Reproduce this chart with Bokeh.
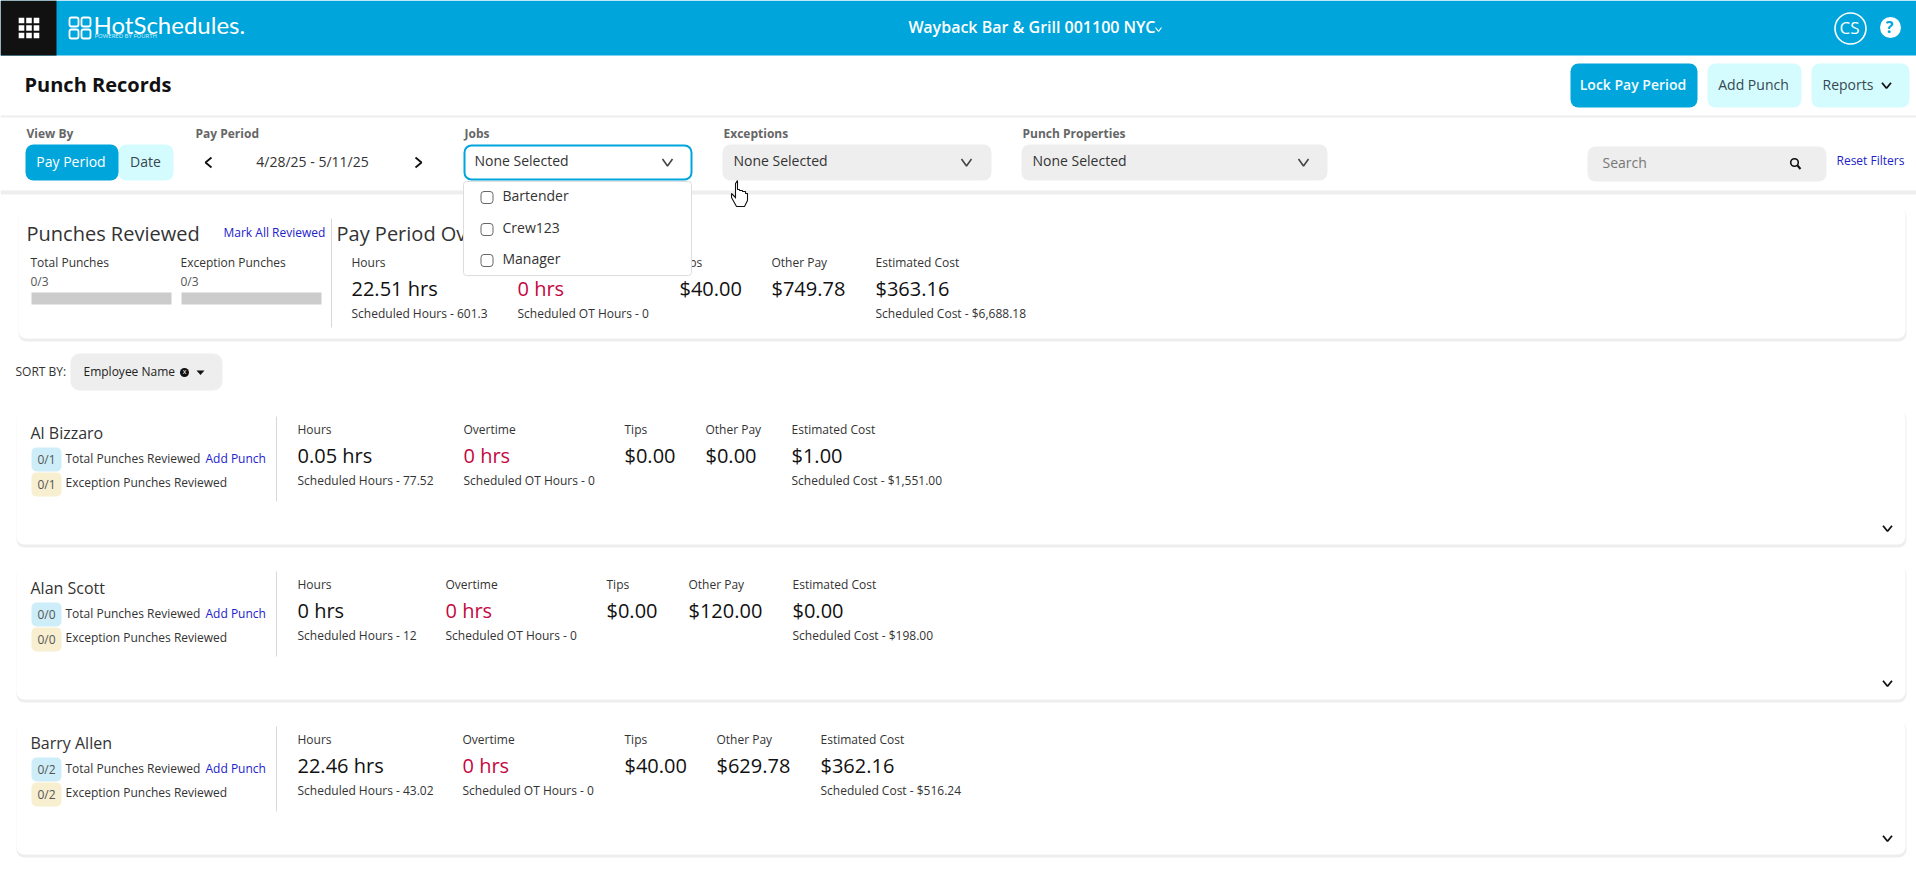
from bokeh.embed import file_html
from bokeh.models import BoxAnnotation, Label, Range1d
from bokeh.plotting import figure
from bokeh.resources import INLINE

# page content
app_name = "HotSchedules."
store_name = "Wayback Bar & Grill 001100 NYC"
page_title = "Punch Records"
pay_period = "4/28/25 - 5/11/25"
job_options = ["Bartender", "Crew123", "Manager"]

# pay period summary
summary_heads = ["Hours", "Overtime", "Tips", "Other Pay", "Estimated Cost"]
summary_values = ["22.51 hrs", "0 hrs", "$40.00", "$749.78", "$363.16"]
summary_subs = ["Scheduled Hours - 601.3", "Scheduled OT Hours - 0", "", "", "Scheduled Cost - $6,688.18"]
punch_heads = ["Total Punches", "Exception Punches"]
punch_counts = ["0/3", "0/3"]

# employee rows
employees = ["Al Bizzaro", "Alan Scott", "Barry Allen"]
total_reviewed = ["0/1", "0/0", "0/2"]
exception_reviewed = ["0/1", "0/0", "0/2"]
hours = ["0.05 hrs", "0 hrs", "22.46 hrs"]
overtime = ["0 hrs", "0 hrs", "0 hrs"]
tips = ["$0.00", "$0.00", "$40.00"]
other_pay = ["$0.00", "$120.00", "$629.78"]
est_cost = ["$1.00", "$0.00", "$362.16"]
sched_hours = ["Scheduled Hours - 77.52", "Scheduled Hours - 12", "Scheduled Hours - 43.02"]
sched_ot = ["Scheduled OT Hours - 0", "Scheduled OT Hours - 0", "Scheduled OT Hours - 0"]
sched_cost = ["Scheduled Cost - $1,551.00", "Scheduled Cost - $198.00", "Scheduled Cost - $516.24"]

# layout, x of the five columns in each employee row
row_offsets = [0, 155, 310]
row_columns = [
    [298, 464, 625, 706, 792],
    [298, 446, 607, 689, 793],
    [298, 463, 625, 717, 821],
]
summary_columns = [352, 518, 680, 772, 876]

BLUE = "#00a5db"
PALE = "#d4fcff"
GREY = "#eeeeee"
LINK = "#2222cc"
RED = "#c4073f"
INK = "#262626"
FONT = "Open Sans"
SEMI = "Open Sans SemiBold"

# y axis flipped so that the numbers read as pixels from the top of the window
p = figure(width=1916, height=876, output_backend="svg", toolbar_location=None,
           x_range=Range1d(0, 1916), y_range=Range1d(876, 0),
           x_axis_location=None, y_axis_location=None, min_border=0)
p.grid.visible = False
p.outline_line_color = None
p.background_fill_color = "white"


def box(x0, x1, y0, y1, fill, radius=0, line=None, line_width=1):
    p.quad(left=[x0], right=[x1], top=[y0], bottom=[y1], fill_color=fill, line_color=line,
           line_width=line_width, border_radius=radius)


# p.text ignores the font under the svg backend, Label does not
def label(x, y, text, size=12, color=INK, style="normal", align="left", font=FONT, level="annotation"):
    p.add_layout(Label(x=x - 1, y=y - 1, text=text, text_font=font, text_font_size=f"{size}px", text_color=color,
                       text_font_style=style, text_align=align, text_baseline="middle", level=level))


def over_box(x0, x1, y0, y1, radius, line, line_width=1):
    p.add_layout(BoxAnnotation(left=x0, right=x1, top=y0, bottom=y1, fill_color="white", fill_alpha=1,
                               line_color=line, line_alpha=1, line_width=line_width, border_radius=radius,
                               level="overlay"))


def chevron(x, y, w=5, h=3.5, color="#444444", width=1.6):
    p.line([x - w, x, x + w], [y - h, y + h, y - h], line_color=color, line_width=width)


def chevron_side(x, y, d, color="#111111"):
    p.line([x - d * 3, x + d * 3, x - d * 3], [y - 5, y, y + 5], line_color=color, line_width=1.8)


def card(x0, x1, y0, y1):
    box(x0, x1 + 1, y0, y1 + 3, GREY, radius=8)
    box(x0, x1, y0 - 1, y1, "white", radius=8)


# header bar
box(0, 1916, 0, 55, BLUE)
box(0, 56, 0, 55, "#111111")
for gx in [21, 28.5, 36]:
    for gy in [20, 27.5, 35]:
        box(gx - 2.8, gx + 2.8, gy - 2.8, gy + 2.8, "white")
# logo mark
box(69, 78, 17, 26, None, radius=2, line="white", line_width=1.8)
box(81, 90, 17, 26, None, radius=2, line="white", line_width=1.8)
box(69, 78, 29, 38, None, radius=2, line="white", line_width=1.8)
box(81, 90, 29, 38, None, radius=2, line="white", line_width=1.8)
label(94, 25, app_name, size=24, color="white", font="Lato")
label(95, 36, "POWERED BY FOURTH", size=6, color="#d4f2fb")
label(909, 27, store_name, size=16, color="white", font=SEMI)
chevron(1158, 29, w=3, h=2, color="white", width=1.2)
p.circle([1850], [28], radius=15.5, fill_color=None, line_color="white", line_width=1.6)
label(1850, 28, "CS", size=17, color="white", align="center")
p.circle([1890], [27], radius=10.5, fill_color="white", line_color=None)
label(1890, 27, "?", size=16, color=BLUE, style="bold", align="center")

# title row
label(25, 85, page_title, size=20, color="#111111", style="bold")
box(1570, 1697, 63, 107, BLUE, radius=8)
label(1633.5, 85, "Lock Pay Period", size=14, color="#f2fbfe", align="center", font=SEMI)
box(1707, 1801, 63, 107, PALE, radius=8)
label(1754, 85, "Add Punch", size=14, color="#37474f", align="center")
box(1811, 1909, 63, 107, PALE, radius=8)
label(1823, 85, "Reports", size=14, color="#37474f")
chevron(1886, 85, w=4.5, h=2.8, color="#111111", width=1.8)
box(0, 1916, 115, 117, GREY)

# filter row
box(0, 1916, 190, 194, GREY)
for fx, name in zip([27, 196, 465, 724, 1023], ["View By", "Pay Period", "Jobs", "Exceptions", "Punch Properties"]):
    label(fx, 134, name, size=12, color="#666666", style="bold")
box(118, 173, 144, 180, PALE, radius=8)
box(25, 118, 144, 180, BLUE, radius=8)
label(71.5, 162, "Pay Period", size=14, color="white", align="center")
label(146, 162, "Date", size=14, color="#37474f", align="center")
chevron_side(208, 162, -1)
chevron_side(418, 162, 1)
label(313, 162, pay_period, size=14, color="#333333", align="center")
box(464, 691, 145, 179, "white", radius=7, line=BLUE, line_width=2)
label(475, 161, "None Selected", size=14, color="#333333")
chevron(667, 162)
box(722, 991, 144, 180, GREY, radius=8)
label(734, 161, "None Selected", size=14, color="#333333")
chevron(966, 162)
box(1021, 1327, 144, 180, GREY, radius=8)
label(1033, 161, "None Selected", size=14, color="#333333")
chevron(1303, 162)
box(1587, 1826, 146, 181, GREY, radius=8)
label(1603, 163, "Search", size=14, color="#777777")
p.circle([1794], [162], radius=3.8, fill_color=None, line_color="#111111", line_width=1.6)
p.line([1797, 1800], [165, 168.5], line_color="#111111", line_width=2)
label(1837, 161, "Reset Filters", size=12, color=LINK)

# pay period card
card(18, 1905, 208, 338)
label(27, 234, "Punches Reviewed", size=20, color="#333333")
label(224, 233, "Mark All Reviewed", size=12, color=LINK)
p.line([331, 331], [218, 327], line_color="#d8d8d8", line_width=1)
label(337, 234, "Pay Period Overview", size=20, color="#333333")
for px, head, count in zip([31, 181], punch_heads, punch_counts):
    label(px, 263, head, size=12, color="#333333")
    label(px, 282, count, size=12, color="#555555")
    box(px, px + 140, 292, 304, "#cccccc")
for sx, head, val, sub in zip(summary_columns, summary_heads, summary_values, summary_subs):
    label(sx, 263, head, size=12, color="#333333")
    label(sx, 289, val, size=20, color=RED if head == "Overtime" else "#111111")
    if sub:
        label(sx, 314, sub, size=12, color="#333333")

# jobs dropdown, has to sit over the card labels so it is an overlay
over_box(463, 691, 181, 275, 3, "#dddddd")
for jy, job in zip([197, 229, 260], job_options):
    over_box(480.5, 492.5, jy - 6, jy + 6, 3, "#666666")
    label(503, jy - 1, job, size=14, color="#333333", level="overlay")

# pointer over the exceptions box
p.patch([735, 735, 737, 737, 739, 739, 742, 742, 745, 745, 747, 747, 744, 736, 731, 731, 735],
        [198, 183, 180, 189, 189, 190, 190, 191, 191, 193, 193, 200, 206, 206, 197, 193, 197],
        fill_color="white", line_color="#111111", line_width=1.1)

# sort by
label(16, 372, "SORT BY:", size=12, color="#333333")
box(70, 222, 353, 390, GREY, radius=9)
label(84, 372, "Employee Name", size=12, color="#222222")
p.circle([184], [372], radius=4.5, fill_color="#111111", line_color=None)
label(185, 372, "x", size=7, color="white", align="center")
p.patch([196, 204, 200], [370, 370, 374.5], fill_color="#111111", line_color=None)

# employee rows
for i, off in enumerate(row_offsets):
    card(16, 1905, 411 + off, 544 + off)
    label(31, 433 + off, employees[i], size=16, color="#333333")
    box(31, 61, 447 + off, 471 + off, "#cdeef8", radius=5)
    box(31, 61, 472 + off, 496 + off, "#f8efd0", radius=5)
    label(47, 460 + off, total_reviewed[i], size=12, color="#555555", align="center")
    label(47, 485 + off, exception_reviewed[i], size=12, color="#555555", align="center")
    label(66, 459 + off, "Total Punches Reviewed", size=12, color="#333333")
    label(206, 459 + off, "Add Punch", size=12, color=LINK)
    label(66, 483 + off, "Exception Punches Reviewed", size=12, color="#333333")
    p.line([276, 276], [416 + off, 501 + off], line_color="#d8d8d8", line_width=1)
    cols = row_columns[i]
    values = [hours[i], overtime[i], tips[i], other_pay[i], est_cost[i]]
    subs = [sched_hours[i], sched_ot[i], "", "", sched_cost[i]]
    for cx, head, val, sub in zip(cols, summary_heads, values, subs):
        label(cx, 430 + off, head, size=12, color="#333333")
        label(cx, 456 + off, val, size=20, color=RED if head == "Overtime" else "#111111")
        if sub:
            label(cx, 481 + off, sub, size=12, color="#333333")
    chevron(1887, 528 + off, w=4.5, h=2.8, color="#111111", width=1.8)

open("out.html", "w").write(file_html(p, INLINE))
